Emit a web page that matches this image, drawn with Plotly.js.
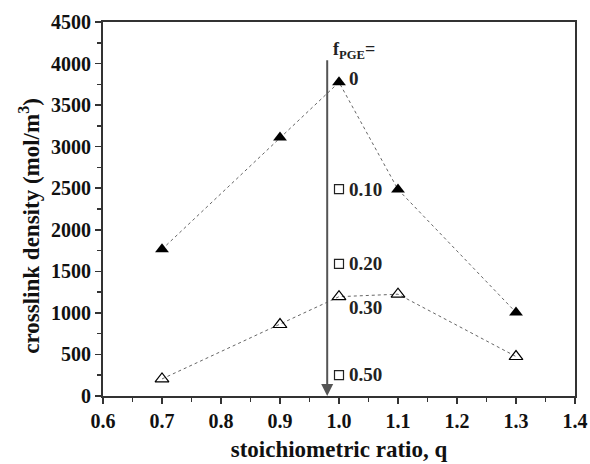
<!DOCTYPE html>
<html><head><meta charset="utf-8">
<script src="https://cdn.plot.ly/plotly-3.0.1.min.js"></script>
<style>
html,body{margin:0;padding:0;background:#fff}#chart{width:590px;height:464px}
</style>
</head><body><div id="chart"></div>
<script>
// f_PGE = 0 series (filled triangles)
const qFilled = [0.7, 0.9, 1.0, 1.1, 1.3];
const densFilled = [1765, 3110, 3775, 2485, 1005];
// f_PGE = 0.30 series (open triangles)
const qOpen = [0.7, 0.9, 1.0, 1.1, 1.3];
const densOpen = [205, 860, 1195, 1225, 475];
// other f_PGE values at q = 1.0 (open squares)
const qSquares = [1.0, 1.0, 1.0];
const densSquares = [2490, 1590, 250];
// f_PGE labels
const labelText = ['0', '0.10', '0.20', '0.30', '0.50'];
const labelY = [3820, 2490, 1600, 1070, 260];
const arrowQ = 0.98, arrowTop = 4160, arrowBottom = 0;
// tick labels
const xTicks = [0.6, 0.7, 0.8, 0.9, 1.0, 1.1, 1.2, 1.3, 1.4];
const xTickText = ['0.6', '0.7', '0.8', '0.9', '1.0', '1.1', '1.2', '1.3', '1.4'];
const yTicks = [0, 500, 1000, 1500, 2000, 2500, 3000, 3500, 4000, 4500];
const yTickText = ['0', '500', '1000', '1500', '2000', '2500', '3000', '3500', '4000', '4500'];
const xTitle = 'stoichiometric ratio, q';
const yTitle = 'crosslink density (mol/m<sup>3</sup>)';

const serif = 'Liberation Serif, Times New Roman, serif';
const traces = [
  {x: qFilled, y: densFilled, mode: 'lines+markers', type: 'scatter',
   line: {color: '#666', width: 1, dash: 'dot'}, marker: {symbol: 'triangle-up', size: 12, color: '#000'}},
  {x: qOpen, y: densOpen, mode: 'lines+markers', type: 'scatter',
   line: {color: '#666', width: 1, dash: 'dot'}, marker: {symbol: 'triangle-up-open', size: 12, color: '#000', line: {width: 1.2}}},
  {x: qSquares, y: densSquares, mode: 'markers', type: 'scatter',
   marker: {symbol: 'square-open', size: 9, color: '#222', line: {width: 1.2}}}
];
const annotations = [
  {x: arrowQ, y: arrowBottom, ax: arrowQ, ay: arrowTop, xref: 'x', yref: 'y', axref: 'x', ayref: 'y',
   showarrow: true, arrowhead: 2, arrowsize: 1.2, arrowwidth: 2, arrowcolor: '#555', text: ' '},
  {x: arrowQ, y: arrowTop, xref: 'x', yref: 'y', xanchor: 'left', yanchor: 'middle', xshift: 4,
   showarrow: false, text: '<b>f<sub>PGE</sub>=</b>', font: {family: serif, size: 18, color: '#222'}},
  {x: -0.155, y: 0.455, xref: 'paper', yref: 'paper', xanchor: 'center', yanchor: 'middle',
   textangle: -90, showarrow: false, text: '<b>' + yTitle + '</b>', font: {family: serif, size: 23, color: '#111'}}
];
labelText.forEach((t, i) => {
  annotations.push({x: 1.0, y: labelY[i], xref: 'x', yref: 'y', xanchor: 'left', yanchor: 'middle',
    xshift: 8, showarrow: false, text: '<b>' + t + '</b>', font: {family: serif, size: 19, color: '#222'}});
});
const layout = {
  width: 590, height: 464, margin: {l: 103, r: 15, t: 22, b: 68},
  paper_bgcolor: '#fff', plot_bgcolor: '#fff', showlegend: false,
  xaxis: {range: [0.6, 1.4], tickmode: 'array', tickvals: xTicks, ticktext: xTickText,
    showgrid: false, zeroline: false, showline: true, linecolor: '#333', linewidth: 2, mirror: true,
    ticks: 'outside', ticklen: 6, tickwidth: 1.5, tickcolor: '#333',
    tickfont: {family: serif, size: 20, color: '#111', weight: 'bold'},
    minor: {dtick: 0.05, tick0: 0.6, ticks: 'outside', ticklen: 4, tickwidth: 1.5, tickcolor: '#333'},
    title: {text: '<b>' + xTitle + '</b>', font: {family: serif, size: 23, color: '#111'}, standoff: 10}},
  yaxis: {range: [0, 4500], tickmode: 'array', tickvals: yTicks, ticktext: yTickText,
    showgrid: false, zeroline: false, showline: true, linecolor: '#333', linewidth: 2, mirror: true,
    ticks: 'outside', ticklen: 6, tickwidth: 1.5, tickcolor: '#333',
    minor: {dtick: 250, tick0: 0, ticks: 'outside', ticklen: 4, tickwidth: 1.5, tickcolor: '#333'},
    tickfont: {family: serif, size: 20, color: '#111', weight: 'bold'}},
  annotations: annotations
};
Plotly.newPlot('chart', traces, layout, {displayModeBar: false, staticPlot: true});
</script></body></html>
